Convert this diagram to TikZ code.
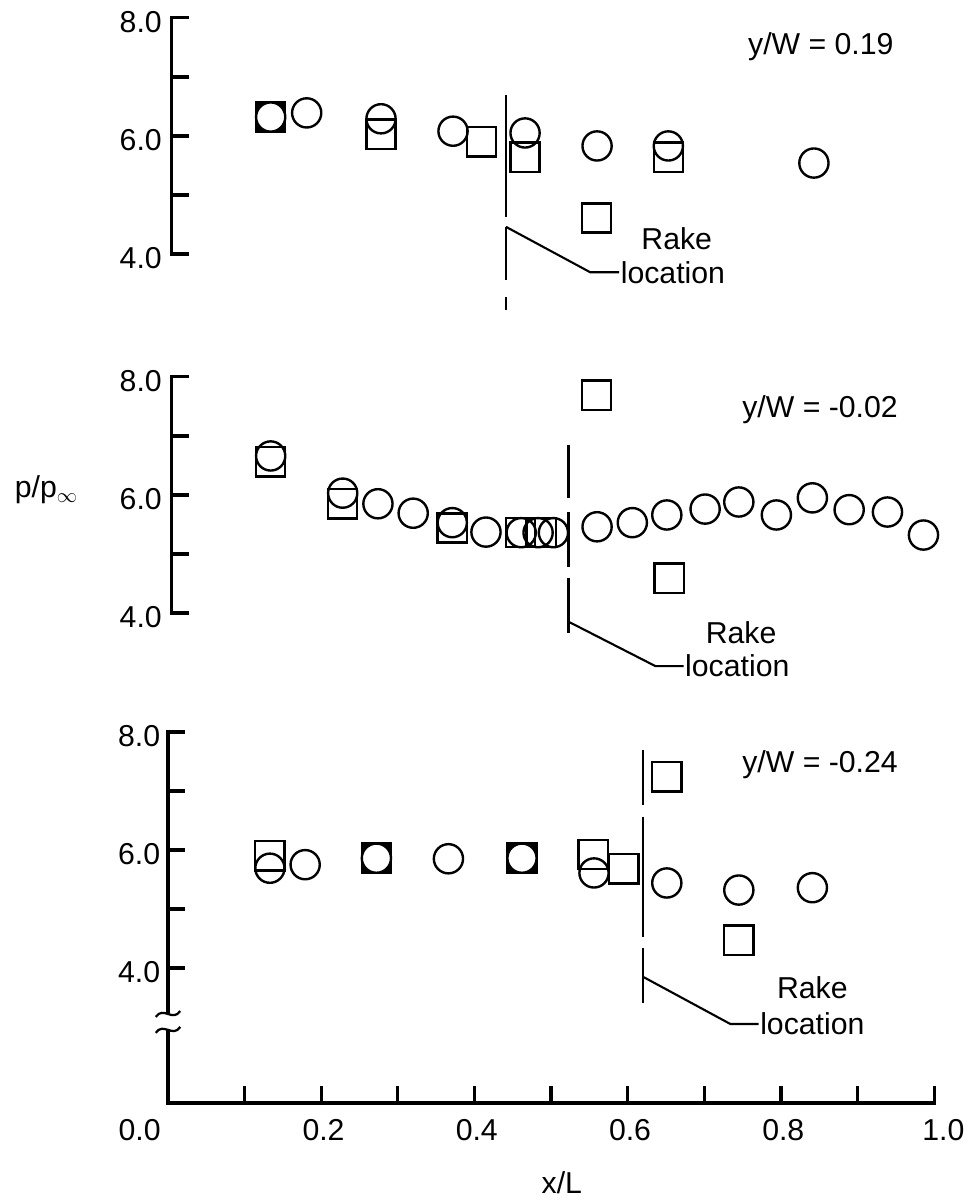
\documentclass[tikz,border=0pt]{standalone}
\usepackage{fontspec}
\setmainfont{Liberation Sans}
\tikzset{
  circ/.style={circle, draw, line width=1.7pt, minimum size=0.73cm, inner sep=0pt},
  sq/.style={rectangle, draw, line width=1.7pt, minimum size=0.73cm, inner sep=0pt},
  axis/.style={line width=2.3pt},
  rakeline/.style={line width=1.9pt},
  lead/.style={line width=1.5pt},
  lbl/.style={font=\fontsize{21.5}{25}\selectfont, inner sep=1pt},
}
\begin{document}
\begin{tikzpicture}[x=0.025cm, y=-0.025cm]
    \useasboundingbox (0,0) rectangle (969,1201);
    % top panel, y/W = 0.19
    \begin{scope}[shift={(168,490)}, x=19.15cm, y=1.475cm]
        \draw[axis] (0.027,8) -- (0.005,8) -- (0.005,4) -- (0.027,4);
        \foreach \pp in {5,6,7} \draw[axis] (0.005,\pp) -- (0.027,\pp);
        \foreach \pp in {4,6,8} \node[lbl, anchor=east] (tyA\pp) at (-0.006,\pp-0.07) {\pp.0};
        \draw[rakeline] (0.441,6.69) -- (0.441,4.63) (0.441,4.46) -- (0.441,3.56) (0.441,3.27) -- (0.441,3.05);
        \node[sq, fill=black] (fsA) at (0.134,6.32) {};
        \node[circ, fill=white] (fcA) at (0.134,6.32) {};
        \foreach \xx/\pp [count=\i] in {0.181/6.39, 0.278/6.29, 0.372/6.08, 0.466/6.05, 0.560/5.83, 0.653/5.83, 0.843/5.54}
            \node[circ] (cA\i) at (\xx,\pp) {};
        \foreach \xx/\pp [count=\i] in {0.278/6.03, 0.409/5.90, 0.466/5.64, 0.653/5.64, 0.559/4.61}
            \node[sq] (sA\i) at (\xx,\pp) {};
        \node[lbl] (ywA) at (0.852,7.51) {y/W = 0.19};
        \node[lbl] (rakeA) at (0.664,4.25) {Rake};
        \node[lbl] (locA) at (0.659,3.69) {location};
        \coordinate (rkA) at (0.441,4.46);
        \coordinate (bendA) at (0.551,3.69);
        \draw[lead] (rkA) -- (bendA) -- (locA.west);
    \end{scope}
    % middle panel, y/W = -0.02
    \begin{scope}[shift={(168,849)}, x=19.15cm, y=1.475cm]
        \draw[axis] (0.027,8) -- (0.005,8) -- (0.005,4) -- (0.027,4);
        \foreach \pp in {5,6,7} \draw[axis] (0.005,\pp) -- (0.027,\pp);
        \foreach \pp in {4,6,8} \node[lbl, anchor=east] (tyB\pp) at (-0.006,\pp-0.07) {\pp.0};
        \node[lbl, anchor=base west] (ppinf) at (-0.202,5.95) {p/p$_\infty$};
        \draw[rakeline] (0.523,6.85) -- (0.523,5.95) (0.523,5.71) -- (0.523,4.78) (0.523,4.59) -- (0.523,3.66);
        \foreach \xx/\pp [count=\i] in {0.134/6.66, 0.228/6.03, 0.274/5.85, 0.320/5.69, 0.371/5.53, 0.415/5.37,
            0.461/5.36, 0.483/5.36, 0.503/5.36, 0.560/5.46, 0.606/5.53, 0.651/5.66, 0.701/5.76,
            0.745/5.88, 0.794/5.66, 0.841/5.95, 0.889/5.75, 0.939/5.71, 0.986/5.32}
            \node[circ] (cB\i) at (\xx,\pp) {};
        \foreach \xx/\pp [count=\i] in {0.134/6.56, 0.228/5.85, 0.371/5.44, 0.460/5.36, 0.487/5.36, 0.559/7.69, 0.654/4.59}
            \node[sq] (sB\i) at (\xx,\pp) {};
        \node[lbl] (ywB) at (0.851,7.44) {y/W = -0.02};
        \node[lbl] (rakeB) at (0.748,3.66) {Rake};
        \node[lbl] (locB) at (0.743,3.10) {location};
        \coordinate (rkB) at (0.523,3.85);
        \coordinate (bendB) at (0.636,3.10);
        \draw[lead] (rkB) -- (bendB) -- (locB.west);
    \end{scope}
    % bottom panel, y/W = -0.24, with the x axis
    \begin{scope}[shift={(168,1204)}, x=19.15cm, y=1.475cm]
        \draw[axis] (0.022,8) -- (0,8) -- (0,3.24);
        \draw[axis] (0,2.95) -- (0,1.71) -- (1,1.71) -- (1,2.0);
        \draw[axis, line width=1.6pt] (-0.016,3.17) .. controls (-0.006,3.36) and (0.006,3.08) .. (0.016,3.27);
        \draw[axis, line width=1.6pt] (-0.016,2.9) .. controls (-0.006,3.09) and (0.006,2.81) .. (0.016,3.0);
        \foreach \pp in {4,5,6,7} \draw[axis] (0,\pp) -- (0.022,\pp);
        \foreach \xx in {0.1,0.2,...,0.9} \draw[axis] (\xx,1.71) -- (\xx,2.0);
        \foreach \pp in {4,6,8} \node[lbl, anchor=east] (tyC\pp) at (-0.008,\pp-0.07) {\pp.0};
        \node[lbl] (txC0) at (-0.037,1.25) {0.0};
        \foreach \xx in {0.2,0.4,0.6,0.8} \node[lbl] (txC\xx) at (\xx+0.003,1.25) {\xx};
        \node[lbl] (txC1) at (1.012,1.25) {1.0};
        \node[lbl] (xL) at (0.514,0.36) {x/L};
        \draw[rakeline] (0.62,7.69) -- (0.62,6.76) (0.62,6.56) -- (0.62,4.53) (0.62,4.34) -- (0.62,3.41);
        \node[sq, fill=black] (fsC1) at (0.272,5.86) {};
        \node[circ, fill=white] (fcC1) at (0.272,5.86) {};
        \node[sq, fill=black] (fsC2) at (0.462,5.86) {};
        \node[circ, fill=white] (fcC2) at (0.462,5.86) {};
        \foreach \xx/\pp [count=\i] in {0.133/5.69, 0.179/5.75, 0.366/5.85, 0.556/5.61, 0.651/5.44, 0.745/5.32, 0.841/5.36}
            \node[circ] (cC\i) at (\xx,\pp) {};
        \foreach \xx/\pp [count=\i] in {0.133/5.90, 0.555/5.92, 0.595/5.68, 0.651/7.24, 0.745/4.47}
            \node[sq] (sC\i) at (\xx,\pp) {};
        \node[lbl] (ywC) at (0.851,7.44) {y/W = -0.24};
        \node[lbl] (rakeC) at (0.841,3.66) {Rake};
        \node[lbl] (locC) at (0.841,3.05) {location};
        \coordinate (rkC) at (0.62,3.85);
        \coordinate (bendC) at (0.734,3.05);
        \draw[lead] (rkC) -- (bendC) -- (locC.west);
    \end{scope}
\end{tikzpicture}
\end{document}
